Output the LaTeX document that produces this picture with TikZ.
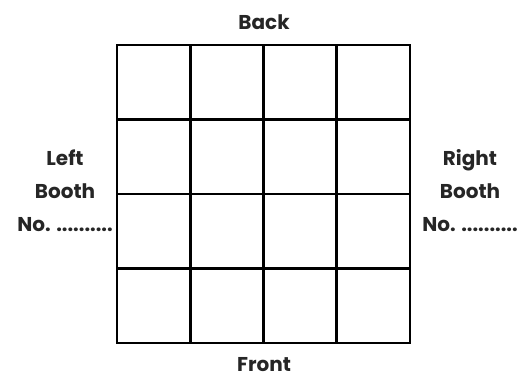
\documentclass[tikz,border=0pt]{standalone}
\usepackage{fontspec}
\setmainfont{Poppins}
\begin{document}
\begin{tikzpicture}[x=1pt,y=-1pt,
  lbl/.style={font=\fontsize{20}{33}\selectfont\bfseries, text=black!85, inner sep=0pt, align=center},
  gridline/.style={line width=2.6pt, black}]
\useasboundingbox (0,0) rectangle (531,380);
\foreach \x in {117,190.25,263.5,336.75,410} \draw[gridline] (\x,45) -- (\x,343);
\foreach \y in {45,119.5,194,268.5,343} \draw[gridline] (117,\y) -- (410,\y);
\draw[gridline, line cap=rect] (117,45) rectangle (410,343);
\node[lbl] (back) at (264,22) {Back};
\node[lbl] (front) at (264,365) {Front};
\node[lbl] (left) at (65,191) {Left\\Booth\\No. ..........};
\node[lbl] (right) at (470,191) {Right\\Booth\\No. ..........};
\end{tikzpicture}
\end{document}
